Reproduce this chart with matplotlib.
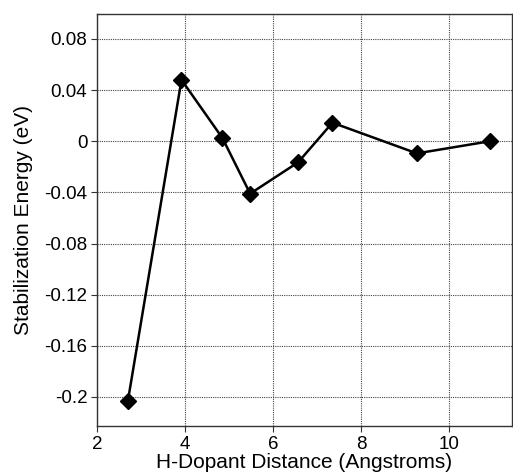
import matplotlib
matplotlib.use("Agg")
import matplotlib.pyplot as plt

# H-dopant distance (Angstroms) and stabilization energy (eV)
distance = [2.70, 3.92, 4.85, 5.48, 6.57, 7.35, 9.27, 10.93]
energy = [-0.2035, 0.048, 0.0025, -0.041, -0.0165, 0.0145, -0.0095, 0.0]

x_ticks = [2, 4, 6, 8, 10]
y_ticks = [-0.2, -0.16, -0.12, -0.08, -0.04, 0, 0.04, 0.08]
y_tick_labels = ["-0.2", "-0.16", "-0.12", "-0.08", "-0.04", "0", "0.04", "0.08"]

plt.rcParams["font.family"] = ["Liberation Sans", "DejaVu Sans"]

fig = plt.figure(figsize=(5.13, 4.75), dpi=100)
ax = fig.add_axes([97 / 513, 1 - 426 / 475, (512 - 97) / 513, (426 - 14) / 475])

ax.plot(distance, energy, color="black", linewidth=1.8, marker="D",
        markersize=8.5, markerfacecolor="black", markeredgecolor="black", zorder=3)

ax.set_xlim(2, 11.43)
ax.set_ylim(-0.2227, 0.0995)
ax.set_xticks(x_ticks)
ax.set_yticks(y_ticks)
ax.set_yticklabels(y_tick_labels)

ax.grid(True, color="#444444", linestyle=(0, (1, 1)), linewidth=0.8)
ax.set_axisbelow(True)

ax.tick_params(axis="both", direction="out", length=4.5, width=0.8,
               labelsize=13.5, color="#333333", pad=2.5)
for s in ax.spines.values():
    s.set_color("#333333")
    s.set_linewidth(1.0)

ax.set_xlabel("H-Dopant Distance (Angstroms)", fontsize=15, labelpad=0)
ax.set_ylabel("Stabilization Energy (eV)", fontsize=15, labelpad=8)

fig.savefig("out.png", dpi=100)
